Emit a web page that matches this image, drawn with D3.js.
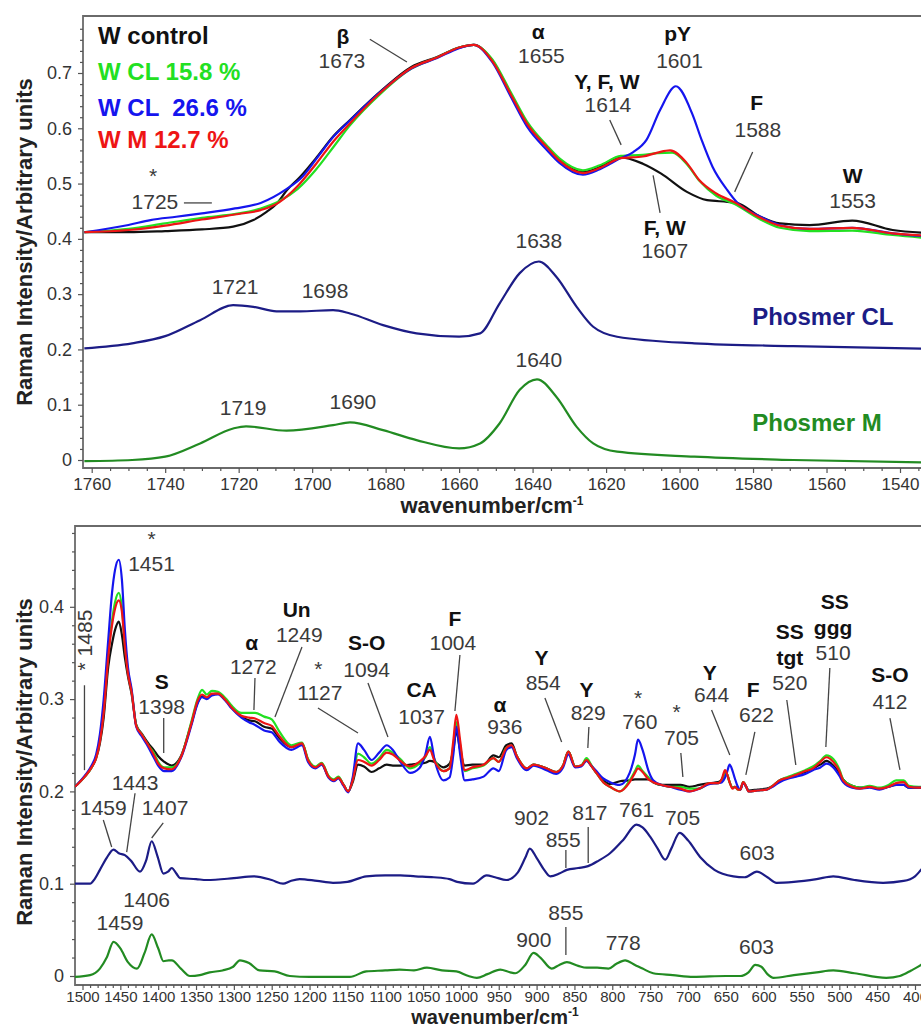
<!DOCTYPE html>
<html>
<head>
<meta charset="utf-8">
<script src="https://cdn.jsdelivr.net/npm/d3@7"></script>
<style>
body{margin:0;background:#fff;}
text{font-family:"Liberation Sans",Arial,Helvetica,sans-serif;}
</style>
</head>
<body>
<div id="plot"></div>
<script>
// ---------- upper panel (1760-1540 cm-1), [wavenumber, intensity] ----------
var upperControl = [[1762,0.412],[1750,0.412],[1740,0.414],[1730,0.417],[1721.5,0.422],[1716,0.434],[1712.4,0.449],[1709.6,0.464],[1706.9,0.488],[1703.3,0.512],[1698.7,0.548],[1694.3,0.585],[1689.7,0.615],[1681,0.669],[1673,0.711],[1666,0.729],[1660,0.746],[1656,0.751],[1651,0.723],[1646,0.663],[1641.5,0.609],[1636,0.566],[1632.6,0.542],[1626.3,0.521],[1621.7,0.53],[1616.3,0.548],[1610,0.536],[1605,0.518],[1598,0.485],[1592.5,0.47],[1587,0.467],[1584.4,0.465],[1578,0.44],[1572.7,0.428],[1564.6,0.425],[1553,0.433],[1542,0.416],[1530,0.41]];
var upperCL158 = [[1762,0.412],[1750,0.418],[1740,0.428],[1730,0.438],[1720,0.446],[1714,0.455],[1709,0.468],[1704,0.49],[1699,0.525],[1694,0.568],[1690,0.603],[1681,0.665],[1673,0.708],[1666,0.728],[1660,0.746],[1656,0.751],[1651,0.725],[1646,0.666],[1641.5,0.612],[1636,0.568],[1632.6,0.545],[1626.3,0.524],[1621.7,0.533],[1616,0.55],[1610,0.552],[1606,0.555],[1602,0.556],[1598,0.535],[1594.6,0.505],[1590,0.478],[1585,0.463],[1578,0.435],[1572.7,0.42],[1564.6,0.414],[1553,0.415],[1542,0.407],[1530,0.4]];
var upperCL266 = [[1762,0.412],[1750,0.425],[1744,0.434],[1737,0.44],[1730,0.446],[1721,0.455],[1714,0.465],[1707,0.49],[1703,0.51],[1698.7,0.546],[1694.3,0.584],[1689.7,0.614],[1681,0.668],[1673,0.708],[1666,0.727],[1660,0.745],[1656,0.751],[1651,0.72],[1646,0.658],[1641.5,0.603],[1636,0.56],[1632.6,0.537],[1626.3,0.516],[1621.7,0.526],[1616,0.546],[1612.6,0.557],[1609,0.579],[1605.3,0.633],[1601,0.676],[1596.6,0.627],[1594,0.579],[1591,0.53],[1587,0.488],[1584.4,0.466],[1578,0.44],[1572.7,0.425],[1564.6,0.418],[1553,0.42],[1542,0.41],[1530,0.403]];
var upperM127 = [[1762,0.412],[1750,0.416],[1740,0.424],[1730,0.435],[1720,0.445],[1714,0.452],[1709,0.466],[1704,0.495],[1699,0.535],[1694,0.578],[1690,0.607],[1681,0.667],[1673,0.709],[1666,0.728],[1660,0.746],[1656,0.751],[1651,0.722],[1646,0.662],[1641.5,0.608],[1636,0.565],[1632.6,0.541],[1626.3,0.519],[1621.7,0.528],[1616,0.546],[1610,0.549],[1606,0.556],[1602.6,0.56],[1598,0.537],[1594.6,0.506],[1590,0.482],[1585,0.466],[1578,0.438],[1572.7,0.424],[1564.6,0.418],[1553,0.42],[1542,0.41],[1530,0.405]];
var upperPhosCL = [[1762,0.202],[1749,0.211],[1740,0.224],[1730.5,0.253],[1721.5,0.28],[1716,0.277],[1709.7,0.269],[1703.3,0.269],[1694.3,0.271],[1689.7,0.265],[1680.7,0.244],[1671.6,0.229],[1660,0.223],[1654.3,0.229],[1649,0.283],[1643.5,0.338],[1638.3,0.359],[1633.5,0.331],[1628,0.277],[1623.5,0.241],[1617,0.223],[1596,0.211],[1569,0.206],[1530,0.201]];
var upperPhosM = [[1762,-0.002],[1749,0.0],[1740,0.006],[1730.5,0.03],[1721.5,0.057],[1718,0.061],[1707,0.053],[1694.3,0.063],[1689.7,0.068],[1680.7,0.054],[1671.6,0.036],[1660,0.021],[1654.3,0.03],[1649,0.066],[1643.5,0.127],[1638.8,0.146],[1633.5,0.114],[1628,0.06],[1623.5,0.03],[1617,0.015],[1596,0.006],[1569,0.0],[1530,-0.005]];

// ---------- lower panel (1500-400 cm-1) ----------
var lowerWave = [1510,1497,1488,1482,1477,1472,1466,1461,1457,1452,1448,1444,1440,1435,1429,1422,1413,1406,1400,1392,1382,1370,1356,1348,1342,1336,1329,1321,1310,1303,1290,1280,1272,1260,1250,1240,1224,1210,1202,1192,1184,1175,1168,1162,1155,1149,1143,1136,1128,1118,1108,1098,1090,1080,1067,1055,1047,1041,1035,1023,1015,1010,1006,1001,995,985,970,957,950,940,933,926,913,904,887,874,865,858,849,841,834,828,821,812,803,790,777,770,766,760,752,746,735,724,710,698,685,671,660,655,651,648,645,641,638,634,631,627,623,620,608,596,588,579,567,557,545,535,525,517,508,500,495,483,473,460,447,435,425,415,408,395,375];
var lowerControl = [.205,.216,.226,.236,.252,.28,.335,.36,.375,.384,.37,.345,.325,.305,.272,.263,.252,.245,.238,.232,.228,.238,.274,.296,.303,.301,.305,.306,.298,.291,.281,.277,.276,.27,.268,.258,.248,.252,.234,.226,.23,.216,.212,.215,.207,.2,.21,.229,.227,.221,.225,.229,.228,.228,.229,.23,.231,.233,.232,.226,.23,.245,.265,.245,.228,.229,.229,.239,.237,.25,.252,.238,.225,.229,.225,.221,.228,.243,.227,.228,.234,.228,.22,.212,.208,.211,.212,.213,.213,.213,.213,.21,.207,.207,.207,.205,.207,.209,.21,.213,.22,.218,.21,.204,.205,.203,.202,.21,.205,.201,.202,.203,.206,.212,.215,.218,.221,.225,.229,.233,.228,.22,.213,.206,.204,.205,.203,.205,.207,.207,.204,.204,.205];
var lowerCL158 = [.205,.216,.226,.237,.256,.29,.35,.385,.405,.415,.4,.36,.33,.308,.272,.262,.25,.242,.232,.226,.226,.237,.276,.3,.31,.305,.309,.308,.3,.293,.285,.285,.285,.281,.278,.265,.25,.253,.235,.227,.231,.217,.213,.216,.207,.2,.213,.241,.237,.23,.236,.245,.242,.235,.225,.23,.237,.248,.235,.222,.225,.25,.275,.25,.222,.225,.228,.236,.232,.247,.249,.238,.225,.229,.225,.221,.228,.243,.227,.228,.236,.229,.22,.21,.205,.2,.212,.222,.228,.222,.215,.21,.207,.205,.205,.203,.203,.209,.209,.213,.22,.218,.21,.204,.205,.202,.202,.21,.205,.2,.201,.202,.206,.212,.216,.219,.223,.227,.233,.239,.235,.224,.213,.206,.204,.206,.204,.207,.212,.212,.206,.205,.206];
var lowerCL266 = [.205,.217,.228,.24,.262,.3,.364,.415,.44,.451,.43,.375,.335,.31,.27,.26,.248,.237,.228,.222,.222,.236,.272,.295,.302,.3,.304,.305,.297,.29,.28,.275,.272,.266,.264,.254,.245,.25,.232,.225,.229,.215,.211,.214,.206,.199,.215,.252,.245,.234,.242,.25,.245,.232,.22,.225,.24,.259,.235,.212,.215,.24,.27,.24,.212,.213,.216,.225,.222,.245,.248,.236,.223,.228,.223,.219,.226,.24,.226,.227,.233,.228,.222,.214,.21,.207,.22,.24,.256,.245,.222,.212,.207,.205,.202,.2,.203,.208,.209,.21,.215,.222,.229,.222,.214,.205,.202,.209,.205,.2,.201,.202,.205,.21,.214,.216,.219,.223,.226,.23,.226,.217,.21,.204,.203,.204,.202,.205,.207,.207,.204,.204,.205];
var lowerM127 = [.205,.216,.226,.236,.254,.285,.345,.38,.398,.407,.395,.357,.328,.307,.271,.262,.25,.24,.23,.225,.224,.237,.274,.298,.305,.302,.306,.306,.298,.291,.282,.28,.279,.274,.271,.26,.248,.252,.234,.226,.23,.216,.212,.215,.207,.2,.212,.234,.232,.228,.234,.242,.24,.233,.227,.232,.238,.245,.233,.222,.225,.255,.283,.255,.223,.226,.229,.236,.232,.247,.25,.238,.225,.229,.225,.221,.228,.243,.227,.228,.234,.228,.22,.21,.205,.2,.21,.22,.225,.221,.213,.21,.207,.205,.203,.2,.203,.209,.209,.214,.223,.218,.21,.203,.205,.202,.202,.21,.205,.2,.201,.202,.206,.212,.215,.218,.222,.225,.232,.237,.232,.222,.212,.205,.203,.205,.203,.205,.209,.21,.205,.204,.205];
var lowerPhosCL = [[1512,.1],[1490,.1],[1484,.105],[1477,.115],[1468,.128],[1459,.137],[1452,.133],[1444,.131],[1436,.125],[1424,.113],[1416,.125],[1408.6,.146],[1401,.13],[1393,.111],[1387,.113],[1382,.117],[1376,.111],[1371,.106],[1350,.105],[1336,.104],[1300,.106],[1274,.108],[1250,.104],[1235,.1],[1225,.103],[1213,.105],[1190,.103],[1169,.101],[1150,.102],[1125,.108],[1100,.109],[1080,.109],[1060,.108],[1036,.107],[1015,.105],[1005,.102],[984,.1],[966,.109],[955,.107],[940,.104],[925,.112],[915,.128],[909,.138],[900,.128],[890,.115],[882,.108],[870,.111],[860,.115],[845,.117],[832,.119],[818,.125],[803,.133],[785,.148],[768,.164],[760,.161],[750,.151],[740,.138],[730,.126],[722,.138],[711,.155],[700,.147],[684,.129],[665,.115],[640,.108],[625,.107],[609,.113],[595,.107],[583,.101],[560,.102],[530,.105],[508,.108],[480,.104],[442,.101],[415,.103],[400,.108],[392,.115],[375,.13]];
var lowerPhosM = [[1512,-.001],[1490,.001],[1477,.008],[1468,.02],[1459,.037],[1450,.03],[1440,.015],[1428,.008],[1418,.025],[1408.6,.045],[1400,.03],[1393,.016],[1386,.017],[1382,.017],[1370,.008],[1358,.0],[1345,.001],[1332,.004],[1315,.006],[1301,.01],[1292,.017],[1280,.014],[1266,.006],[1246,.005],[1226,.0],[1200,-.001],[1147,-.001],[1125,.005],[1100,.006],[1081,.007],[1062,.006],[1045,.009],[1025,.006],[1006,.005],[990,.0],[979,-.002],[965,.002],[948,.007],[935,.004],[928,.003],[915,.012],[904,.025],[895,.02],[880,.008],[870,.012],[860,.015],[845,.011],[834,.009],[820,.009],[805,.008],[795,.013],[783,.017],[770,.012],[760,.008],[746,.003],[720,.001],[693,-.001],[650,.0],[631,.0],[620,.004],[611,.012],[603,.01],[595,.002],[587,-.002],[560,.001],[530,.004],[508,.006],[480,.003],[438,-.002],[420,.0],[405,.006],[392,.012],[380,.02]];

// tick labels
var upperXTicks = d3.range(1540,1761,20);
var upperYTicks = [0,0.1,0.2,0.3,0.4,0.5,0.6,0.7];
var lowerXTicks = d3.range(400,1501,50);
var lowerYTicks = [0,0.1,0.2,0.3,0.4];

var legendNames = ['W control','W CL 15.8 %','W CL  26.6 %','W M 12.7 %'];
var phosNames = ['Phosmer CL','Phosmer M'];

// band labels [text, wavenumber, intensity, bold]
var upperNotes = [
 ['β',1691.6,0.765,1],['1673',1691.9,0.723,0],
 ['*',1743.3,0.515,0],['1725',1742.8,0.4665,0],
 ['α',1638.5,0.774,1],['1655',1637.6,0.732,0],
 ['Y, F, W',1619.8,0.684,1],['1614',1619.5,0.642,0],
 ['pY',1600.5,0.772,1],['1601',1600,0.723,0],
 ['F',1579,0.646,1],['1588',1578.7,0.597,0],
 ['W',1552.9,0.515,1],['1553',1552.9,0.47,0],
 ['F, W',1604,0.42,1],['1607',1604,0.378,0],
 ['1638',1638.3,0.396,0],
 ['1721',1721,0.313,0],['1698',1696.5,0.307,0],
 ['1719',1718.8,0.094,0],['1690',1688.9,0.105,0],
 ['1640',1638.3,0.181,0]
];
var upperLeaders = [[1684.3,0.761,1674.2,0.72],[1734.9,0.465,1727.3,0.465],[1619,0.615,1615.9,0.57],[1580.1,0.557,1585,0.485],[1607.2,0.515,1605.3,0.447]];

var lowerNotes = [
 ['*',1408.6,0.474,0],['1451',1408.8,0.447,0],
 ['S',1395.4,0.3185,1],['1398',1395.4,0.2914,0],
 ['α',1276.5,0.3608,1],['1272',1274.4,0.3348,0],
 ['Un',1217,0.3965,1],['1249',1213.6,0.3695,0],
 ['*',1188.5,0.333,0],['1127',1186.3,0.3066,0],
 ['S-O',1124.6,0.3608,1],['1094',1124.6,0.3315,0],
 ['CA',1051.9,0.3099,1],['1037',1051.9,0.2806,0],
 ['F',1007.9,0.3868,1],['1004',1010.6,0.3608,0],
 ['α',948.5,0.2936,1],['936',941.9,0.2698,0],
 ['Y',893.4,0.3445,1],['854',891.3,0.3174,0],
 ['Y',833.9,0.3099,1],['829',831.8,0.2849,0],
 ['*',765.8,0.302,0],['760',763.5,0.2752,0],
 ['*',715,0.286,0],['705',708.5,0.2579,0],
 ['Y',671.1,0.3283,1],['644',668.8,0.3044,0],
 ['F',613.9,0.3099,1],['622',609.4,0.2828,0],
 ['SS',565.4,0.3727,1],['tgt',565.4,0.3445,1],['520',565.4,0.3174,0],
 ['SS',505.9,0.4052,1],['ggg',508.2,0.377,1],['510',508.2,0.35,0],
 ['S-O',433.1,0.3261,1],['412',433.1,0.2969,0],
 ['1459',1472.5,0.182,0],['1443',1430.6,0.209,0],['1407',1391,0.182,0],
 ['902',906.6,0.1712,0],['855',864.9,0.1473,0],['817',829.6,0.1766,0],['761',767.9,0.1798,0],['705',707.1,0.1712,0],['603',608.6,0.1333,0],
 ['1406',1415.2,0.0823,0],['1459',1450.5,0.0574,0],['855',861.3,0.0683,0],['900',903.6,0.039,0],['778',785.6,0.0358,0],['603',609.4,0.0314,0]
];
var lowerLeaders = [
 [1497.4,0.315,1497.4,0.223],[1392.7,0.2795,1392.7,0.2416],[1272.1,0.3229,1273.5,0.2882],
 [1210,0.3564,1245.7,0.2806],[1188.9,0.2904,1136,0.2633],[1122.8,0.3174,1096.4,0.2589],
 [1001.3,0.3478,1007.9,0.2871],[889,0.3012,866.9,0.2535],[830.9,0.2698,832.3,0.247],
 [709.4,0.2416,706.7,0.2156],[668.8,0.2882,644.7,0.2394],[611.6,0.2644,623.5,0.2178],
 [569.4,0.299,557.5,0.2286],[512.5,0.3337,517.8,0.2481],[433.1,0.2795,419.9,0.2232],
 [1472.5,0.169,1461.4,0.1398],[1430.6,0.198,1441.6,0.1343],[1393.3,0.1658,1408.6,0.1495],
 [861.3,0.1365,861.3,0.117],[831.8,0.1614,831.8,0.1224],[861.3,0.0531,861.3,0.0228]
];

var colControl = '#111111', colCL158 = '#22e022', colCL266 = '#1515ee', colM127 = '#ee1515';
var colPhosCL = '#1c1c86', colPhosM = '#228b22';

var W = 921, H = 1028;
var svg = d3.select('#plot').append('svg').attr('width',W).attr('height',H);

function panel(cfg){
	var x = d3.scaleLinear().domain(cfg.xCal).range(cfg.xPix);
	var y = d3.scaleLinear().domain(cfg.yCal).range(cfg.yPix);
	var g = svg.append('g');

	g.append('clipPath').attr('id',cfg.id)
		.append('rect').attr('x',cfg.left).attr('y',cfg.top)
		.attr('width',W-cfg.left).attr('height',cfg.bottom-cfg.top);

	// frame (right side runs off the picture)
	g.append('path')
		.attr('d','M'+(W+5)+','+cfg.top+'H'+cfg.left+'V'+cfg.bottom+'H'+(W+5))
		.attr('fill','none').attr('stroke','#6a6a6a').attr('stroke-width',1.8);

	// axes
	var xMinor = cfg.xMinor.filter(function(d){return x(d)>=cfg.left && x(d)<=W;});
	var yMinor = cfg.yMinor.filter(function(d){return y(d)>=cfg.top && y(d)<=cfg.bottom;});
	var ax = g.append('g').attr('transform','translate(0,'+cfg.bottom+')')
		.call(d3.axisBottom(x).tickValues(cfg.xTicks).tickSize(5).tickPadding(cfg.xPad).tickFormat(d3.format('d')));
	var axm = g.append('g').attr('transform','translate(0,'+cfg.bottom+')')
		.call(d3.axisBottom(x).tickValues(xMinor).tickSize(3).tickFormat(''));
	var ay = g.append('g').attr('transform','translate('+cfg.left+',0)')
		.call(d3.axisLeft(y).tickValues(cfg.yTicks).tickSize(5).tickPadding(6)
			.tickFormat(function(d){return d===0?'0':d.toFixed(1);}));
	var aym = g.append('g').attr('transform','translate('+cfg.left+',0)')
		.call(d3.axisLeft(y).tickValues(yMinor).tickSize(3).tickFormat(''));
	[ax,axm,ay,aym].forEach(function(a){
		a.select('.domain').remove();
		a.selectAll('line').attr('stroke','#555').attr('stroke-width',1.2);
		a.selectAll('text').attr('fill','#333')
			.style('font-family','"Liberation Sans",Arial,sans-serif');
	});
	ax.selectAll('text').style('font-size',cfg.xFont);
	ay.selectAll('text').style('font-size','18px');

	// titles
	var xt = g.append('text').attr('x',cfg.xTitleX).attr('y',cfg.xTitleY)
		.attr('text-anchor','middle').style('font-size',cfg.xTitleFont).style('font-weight','bold').attr('fill','#222');
	xt.append('tspan').text('wavenumber/cm');
	xt.append('tspan').attr('dy',-8).style('font-size','12px').text('-1');
	g.append('text').attr('transform','translate(32,'+cfg.yTitleY+') rotate(-90)')
		.attr('text-anchor','middle').style('font-size','22px').style('font-weight','bold').attr('fill','#222')
		.text('Raman Intensity/Arbitrary units');

	// spectra
	var line = d3.line().x(function(d){return x(d[0]);}).y(function(d){return y(d[1]);}).curve(d3.curveMonotoneX);
	var lines = g.append('g').attr('clip-path','url(#'+cfg.id+')');
	cfg.series.forEach(function(s){
		lines.append('path').attr('d',line(s.data)).attr('fill','none')
			.attr('stroke',s.color).attr('stroke-width',2.2).attr('stroke-linejoin','round');
	});

	// leaders and band labels
	cfg.leaders.forEach(function(l){
		g.append('line').attr('x1',x(l[0])).attr('y1',y(l[1])).attr('x2',x(l[2])).attr('y2',y(l[3]))
			.attr('stroke','#444').attr('stroke-width',1.3);
	});
	cfg.notes.forEach(function(n){
		g.append('text').attr('x',x(n[1])).attr('y',y(n[2])).attr('dy','0.35em')
			.attr('text-anchor','middle')
			.style('font-size','21px').style('font-weight',n[3]?'bold':'normal')
			.attr('fill',n[3]?'#111':'#3a3a3a').text(n[0]);
	});
	return {g:g,x:x,y:y};
}

var up = panel({
	id:'clipUp', left:83, top:16, bottom:468,
	xCal:[1760,1540], xPix:[91.7,900], yCal:[0,0.7], yPix:[460,73],
	xTicks:upperXTicks, yTicks:upperYTicks, xFont:'17px', xPad:5,
	xMinor:d3.range(1530,1766,5).filter(function(d){return d%20!==0;}),
	yMinor:d3.range(0,41).map(function(i){return +(i*0.02).toFixed(2);}).filter(function(d){return Math.round(d*100)%10!==0;}),
	xTitleX:492, xTitleY:513, xTitleFont:'22px', yTitleY:242,
	series:[
		{data:upperPhosCL,color:colPhosCL},{data:upperPhosM,color:colPhosM},
		{data:upperControl,color:colControl},{data:upperCL158,color:colCL158},
		{data:upperCL266,color:colCL266},{data:upperM127,color:colM127}
	],
	notes:upperNotes, leaders:upperLeaders
});

var low = panel({
	id:'clipLow', left:75, top:526, bottom:985,
	xCal:[1500,400], xPix:[82.5,915], yCal:[0,0.4], yPix:[976,606.8],
	xTicks:lowerXTicks, yTicks:lowerYTicks, xFont:'15px', xPad:1,
	xMinor:d3.range(380,1511,10).filter(function(d){return d%50!==0;}),
	yMinor:d3.range(0,25).map(function(i){return +(i*0.02).toFixed(2);}).filter(function(d){return Math.round(d*100)%10!==0;}),
	xTitleX:495, xTitleY:1023.5, xTitleFont:'20px', yTitleY:762,
	series:[
		{data:lowerPhosCL,color:colPhosCL},{data:lowerPhosM,color:colPhosM},
		{data:d3.zip(lowerWave,lowerControl),color:colControl},{data:d3.zip(lowerWave,lowerCL158),color:colCL158},
		{data:d3.zip(lowerWave,lowerCL266),color:colCL266},{data:d3.zip(lowerWave,lowerM127),color:colM127}
	],
	notes:lowerNotes, leaders:lowerLeaders
});

// rotated 1485 label
low.g.append('text')
	.attr('transform','translate('+low.x(1496.7)+','+low.y(0.364)+') rotate(-90)')
	.attr('dy','0.35em').attr('text-anchor','middle').style('font-size','21px').attr('fill','#3a3a3a')
	.text('* 1485');

// legend of the upper panel
var legColors = [colControl,colCL158,colCL266,colM127];
var legY = [36,72,108,140];
legendNames.forEach(function(name,i){
	up.g.append('text').attr('x',98).attr('y',legY[i]).attr('dy','0.35em')
		.attr('xml:space','preserve').style('white-space','pre')
		.style('font-size','24px').style('font-weight','bold').attr('fill',legColors[i]).text(name);
});

// phosmer labels
up.g.append('text').attr('x',up.x(1561)).attr('y',up.y(0.259)).attr('dy','0.35em').attr('text-anchor','middle')
	.style('font-size','24px').style('font-weight','bold').attr('fill',colPhosCL).text(phosNames[0]);
up.g.append('text').attr('x',up.x(1562.6)).attr('y',up.y(0.067)).attr('dy','0.35em').attr('text-anchor','middle')
	.style('font-size','24px').style('font-weight','bold').attr('fill',colPhosM).text(phosNames[1]);
</script>
</body>
</html>
